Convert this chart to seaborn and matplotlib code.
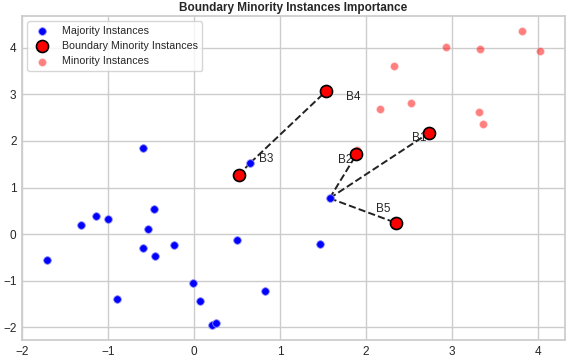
import numpy as np
import pandas as pd
import matplotlib
matplotlib.use('Agg')
import matplotlib.pyplot as plt
import seaborn as sns

# majority instances
maj_x = [-1.715, -1.32, -1.14, -1.005, -0.90, -0.60, -0.54, -0.466, -0.458, -0.233,
         -0.012, 0.07, 0.21, 0.25, 0.497, 0.827, -0.60, 0.652, 1.575, 1.467]
maj_y = [-0.56, 0.20, 0.38, 0.316, -1.40, -0.29, 0.11, 0.54, -0.47, -0.23,
         -1.06, -1.43, -1.96, -1.91, -0.136, -1.22, 1.86, 1.53, 0.77, -0.22]

# minority instances
min_x = [3.807, 2.926, 3.326, 4.024, 2.32, 2.157, 2.518, 3.318, 3.353, 1.894]
min_y = [4.366, 4.01, 3.985, 3.935, 3.62, 2.695, 2.82, 2.62, 2.366, 1.81]

# boundary minority instances
bnd_names = ['B1', 'B2', 'B3', 'B4', 'B5']
bnd_x = [2.736, 1.886, 0.524, 1.537, 2.344]
bnd_y = [2.18, 1.71, 1.28, 3.075, 0.243]
label_x = [2.53, 1.67, 0.75, 1.77, 2.12]
label_y = [1.99, 1.52, 1.54, 2.87, 0.48]

# which majority point each boundary instance is linked to
links = [18, 18, 17, 17, 18]

sns.set_theme(style='whitegrid')
plt.rcParams['font.family'] = ['Liberation Sans', 'DejaVu Sans']

fig, ax = plt.subplots(figsize=(5.66, 3.58), dpi=100)
fig.subplots_adjust(left=0.039, right=0.998, top=0.955, bottom=0.05)

for i in range(len(bnd_names)):
    j = links[i]
    ax.plot([maj_x[j], bnd_x[i]], [maj_y[j], bnd_y[i]], ls='--', color='#222222',
            lw=1.4, zorder=1)

sns.scatterplot(x=maj_x, y=maj_y, color='blue', s=30, edgecolor='#8a8aff',
                linewidth=0.6, marker='o', label='Majority Instances', ax=ax, zorder=3)
sns.scatterplot(x=bnd_x, y=bnd_y, color='red', s=75, edgecolor='black',
                linewidth=1.2, label='Boundary Minority Instances', ax=ax, zorder=4)
sns.scatterplot(x=min_x, y=min_y, color='red', alpha=0.5, s=30, edgecolor='#ffb0b0',
                linewidth=0.6, label='Minority Instances', ax=ax, zorder=2)

for name, lx, ly in zip(bnd_names, label_x, label_y):
    ax.text(lx, ly, name, fontsize=8.5, color='#262626')

ax.set_title('Boundary Minority Instances Importance', fontsize=8.5,
             fontweight='bold', pad=4)
ax.tick_params(axis='x', labelsize=8.5, length=0, pad=4)
ax.tick_params(axis='y', labelsize=8.5, length=0, pad=4)
ax.legend(loc='upper left', fontsize=7.7, frameon=True)

plt.savefig('out.png', dpi=100)
